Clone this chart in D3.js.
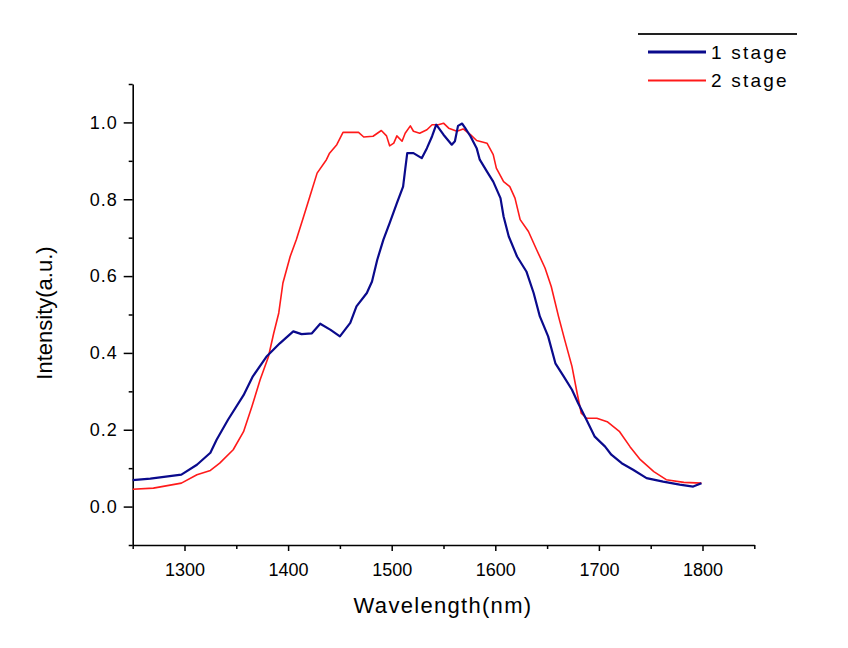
<!DOCTYPE html>
<html>
<head>
<meta charset="utf-8">
<script src="https://cdn.jsdelivr.net/npm/d3@7"></script>
<style>
    body { margin: 0; background: #fff; }
    svg text { font-family: "Liberation Sans", Arial, sans-serif; fill: #000; }
</style>
</head>
<body>
<div id="chart"></div>
<script>
// spectra: wavelength (nm) and normalised intensity
const stage1Wavelength = [1250, 1267, 1297, 1312, 1325, 1331, 1342, 1357, 1366, 1379, 1392, 1405, 1413, 1423, 1431, 1441, 1450, 1460, 1466, 1476, 1481, 1486, 1492, 1498, 1505, 1511, 1513, 1515, 1521, 1529, 1534, 1539, 1543, 1550, 1558, 1561, 1564, 1568, 1571, 1576, 1582, 1585, 1592, 1598, 1605, 1608, 1613, 1621, 1630, 1637, 1643, 1651, 1658, 1666, 1674, 1680, 1688, 1696, 1706, 1712, 1722, 1733, 1746, 1762, 1778, 1791, 1799];
const stage1Intensity = [0.069, 0.073, 0.083, 0.109, 0.140, 0.174, 0.226, 0.290, 0.339, 0.390, 0.425, 0.456, 0.449, 0.451, 0.476, 0.460, 0.443, 0.478, 0.521, 0.556, 0.586, 0.642, 0.695, 0.738, 0.790, 0.833, 0.877, 0.920, 0.920, 0.907, 0.933, 0.964, 0.994, 0.968, 0.942, 0.951, 0.991, 0.997, 0.985, 0.964, 0.933, 0.903, 0.872, 0.846, 0.803, 0.755, 0.703, 0.651, 0.612, 0.556, 0.495, 0.443, 0.373, 0.339, 0.304, 0.269, 0.226, 0.182, 0.156, 0.135, 0.113, 0.096, 0.074, 0.065, 0.057, 0.052, 0.061];

const stage2Wavelength = [1250, 1270, 1297, 1312, 1325, 1334, 1347, 1357, 1365, 1373, 1381, 1386, 1391, 1395, 1402, 1408, 1415, 1421, 1428, 1437, 1440, 1447, 1453, 1468, 1473, 1482, 1490, 1495, 1498, 1502, 1505, 1510, 1513, 1518, 1521, 1527, 1534, 1539, 1545, 1550, 1555, 1563, 1569, 1576, 1582, 1592, 1598, 1601, 1608, 1614, 1619, 1624, 1632, 1640, 1648, 1654, 1661, 1667, 1674, 1679, 1683, 1688, 1698, 1708, 1720, 1730, 1740, 1753, 1765, 1782, 1799];
const stage2Intensity = [0.045, 0.048, 0.061, 0.083, 0.094, 0.113, 0.148, 0.195, 0.260, 0.330, 0.390, 0.450, 0.504, 0.582, 0.651, 0.695, 0.755, 0.807, 0.868, 0.903, 0.920, 0.942, 0.974, 0.974, 0.962, 0.964, 0.979, 0.965, 0.939, 0.946, 0.965, 0.951, 0.972, 0.991, 0.977, 0.972, 0.981, 0.994, 0.994, 0.998, 0.985, 0.977, 0.983, 0.968, 0.953, 0.946, 0.916, 0.881, 0.846, 0.833, 0.803, 0.747, 0.716, 0.668, 0.621, 0.573, 0.495, 0.434, 0.365, 0.295, 0.243, 0.230, 0.230, 0.221, 0.195, 0.156, 0.122, 0.091, 0.070, 0.063, 0.061];

const seriesNames = ["1 stage", "2 stage"];
const seriesColors = ["#0a0a8c", "#ff1a1a"];
const seriesWidths = [2.2, 1.6];

const xMajorTicks = [1300, 1400, 1500, 1600, 1700, 1800];
const xMinorTicks = [1250, 1350, 1450, 1550, 1650, 1750, 1850];
const yMajorTicks = [0.0, 0.2, 0.4, 0.6, 0.8, 1.0];
const yMinorTicks = [-0.1, 0.1, 0.3, 0.5, 0.7, 0.9, 1.1];

const xTitle = "Wavelength(nm)";
const yTitle = "Intensity(a.u.)";

// ---- drawing ----
const width = 848, height = 648;
const plot = { left: 132.7, right: 754.3, top: 84, bottom: 545 };

const svg = d3.select("#chart").append("svg")
    .attr("width", width)
    .attr("height", height);

const x = d3.scaleLinear().domain([1250, 1850]).range([plot.left, plot.right]);
const y = d3.scaleLinear().domain([-0.1, 1.1]).range([plot.bottom, plot.top]);

// minor ticks first, then the major axis with labels
svg.append("g")
    .attr("transform", `translate(0,${plot.bottom})`)
    .call(d3.axisBottom(x).tickValues(xMinorTicks).tickSize(4).tickSizeOuter(0).tickFormat(""))
    .call(g => g.select(".domain").remove())
    .call(g => g.selectAll("line").attr("stroke-width", 1.5));

const xAxis = svg.append("g")
    .attr("transform", `translate(0,${plot.bottom})`)
    .call(d3.axisBottom(x).tickValues(xMajorTicks).tickSize(6).tickSizeOuter(0).tickPadding(12).tickFormat(d3.format("d")));
xAxis.select(".domain").attr("stroke-width", 1.6);
xAxis.selectAll("line").attr("stroke-width", 1.5);
xAxis.selectAll("text").style("font-size", "18px");

svg.append("g")
    .attr("transform", `translate(${plot.left},0)`)
    .call(d3.axisLeft(y).tickValues(yMinorTicks).tickSize(4).tickSizeOuter(0).tickFormat(""))
    .call(g => g.select(".domain").remove())
    .call(g => g.selectAll("line").attr("stroke-width", 1.5));

const yAxis = svg.append("g")
    .attr("transform", `translate(${plot.left},0)`)
    .call(d3.axisLeft(y).tickValues(yMajorTicks).tickSize(9).tickSizeOuter(0).tickPadding(6).tickFormat(d3.format(".1f")));
yAxis.select(".domain").attr("stroke-width", 1.6);
yAxis.selectAll("line").attr("stroke-width", 1.5);
yAxis.selectAll("text").style("font-size", "18px").style("letter-spacing", "1px");

// axis titles
svg.append("text")
    .attr("x", 443)
    .attr("y", 613)
    .attr("text-anchor", "middle")
    .style("font-size", "22px")
    .style("letter-spacing", "1.3px")
    .text(xTitle);

svg.append("text")
    .attr("transform", "translate(52,313) rotate(-90)")
    .attr("text-anchor", "middle")
    .style("font-size", "22px")
    .text(yTitle);

// curves
const line = d3.line()
    .x(d => x(d[0]))
    .y(d => y(d[1]));

const series = [
    d3.zip(stage1Wavelength, stage1Intensity),
    d3.zip(stage2Wavelength, stage2Intensity)
];

// red drawn first so the blue sits on top where they overlap
[1, 0].forEach(i => {
    svg.append("path")
        .datum(series[i])
        .attr("fill", "none")
        .attr("stroke", seriesColors[i])
        .attr("stroke-width", seriesWidths[i])
        .attr("stroke-linejoin", "round")
        .attr("d", line);
});

// legend
const legend = svg.append("g");
legend.append("line")
    .attr("x1", 638).attr("x2", 797)
    .attr("y1", 34).attr("y2", 34)
    .attr("stroke", "#222")
    .attr("stroke-width", 2);

seriesNames.forEach((name, i) => {
    const ly = 52 + i * 28.5;
    legend.append("line")
        .attr("x1", 648).attr("x2", 706)
        .attr("y1", ly).attr("y2", ly)
        .attr("stroke", seriesColors[i])
        .attr("stroke-width", i === 0 ? 3 : 1.8);
    legend.append("text")
        .attr("x", 711)
        .attr("y", ly)
        .attr("dy", "0.36em")
        .style("font-size", "19px")
        .style("letter-spacing", "2.2px")
        .text(name);
});
</script>
</body>
</html>
